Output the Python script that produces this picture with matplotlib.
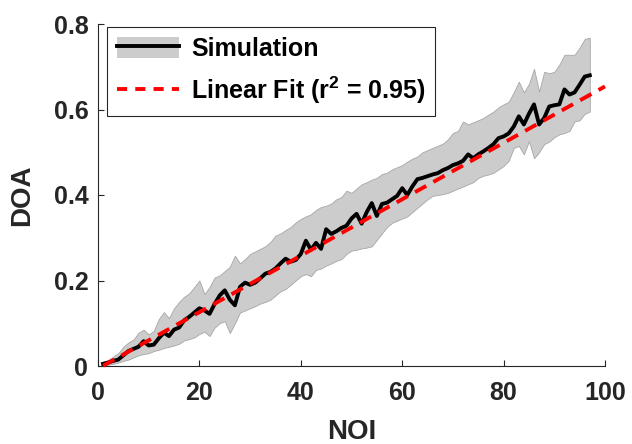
import numpy as np
import matplotlib
matplotlib.use("Agg")
import matplotlib.pyplot as plt
from matplotlib.patches import Patch
from matplotlib.lines import Line2D

# ---------------- data ----------------
noi = list(range(1, 98))
doa_mean = [0.005, 0.008, 0.012, 0.015, 0.025, 0.035, 0.040, 0.045, 0.058, 0.048,
            0.050, 0.065, 0.078, 0.070, 0.085, 0.090, 0.107, 0.115, 0.125,
            0.135, 0.130, 0.122, 0.145, 0.165, 0.177, 0.155, 0.142, 0.185, 0.195,
            0.190, 0.195, 0.205, 0.216, 0.220, 0.228, 0.240, 0.251, 0.244, 0.248,
            0.262, 0.293, 0.272, 0.288, 0.274, 0.320, 0.309, 0.315, 0.323,
            0.328, 0.345, 0.356, 0.333, 0.360, 0.381, 0.351, 0.379, 0.382, 0.390,
            0.398, 0.416, 0.400, 0.420, 0.437, 0.440, 0.444, 0.448, 0.451, 0.458,
            0.463, 0.470, 0.474, 0.480, 0.495, 0.486, 0.495, 0.502, 0.510, 0.519,
            0.533, 0.537, 0.544, 0.560, 0.584, 0.565, 0.590, 0.612, 0.565,
            0.580, 0.607, 0.610, 0.612, 0.647, 0.635, 0.640, 0.658, 0.677, 0.680]
doa_upper = [0.010, 0.014, 0.022, 0.030, 0.045, 0.055, 0.062, 0.078, 0.085, 0.074,
             0.082, 0.110, 0.126, 0.112, 0.135, 0.150, 0.162, 0.170, 0.185,
             0.200, 0.168, 0.185, 0.207, 0.212, 0.222, 0.232, 0.258, 0.240, 0.250,
             0.262, 0.268, 0.274, 0.280, 0.290, 0.305, 0.310, 0.318, 0.325, 0.336,
             0.344, 0.350, 0.355, 0.365, 0.372, 0.375, 0.380, 0.390, 0.395,
             0.410, 0.405, 0.415, 0.425, 0.430, 0.436, 0.440, 0.449, 0.452, 0.460,
             0.465, 0.470, 0.478, 0.485, 0.490, 0.500, 0.505, 0.510, 0.515, 0.520,
             0.530, 0.545, 0.550, 0.572, 0.565, 0.570, 0.575, 0.580, 0.588, 0.595,
             0.605, 0.612, 0.618, 0.640, 0.665, 0.640, 0.660, 0.695, 0.642,
             0.688, 0.685, 0.688, 0.705, 0.728, 0.728, 0.728, 0.745, 0.765, 0.768]
doa_lower = [0.001, 0.003, 0.005, 0.008, 0.012, 0.015, 0.020, 0.025, 0.028, 0.030,
             0.035, 0.038, 0.042, 0.045, 0.048, 0.052, 0.060, 0.063, 0.067,
             0.075, 0.080, 0.070, 0.090, 0.100, 0.105, 0.077, 0.100, 0.125, 0.130,
             0.135, 0.140, 0.146, 0.150, 0.155, 0.165, 0.175, 0.180, 0.190, 0.200,
             0.210, 0.215, 0.210, 0.225, 0.228, 0.235, 0.240, 0.246, 0.250,
             0.262, 0.270, 0.272, 0.275, 0.277, 0.280, 0.295, 0.310, 0.325, 0.335,
             0.340, 0.345, 0.350, 0.360, 0.370, 0.380, 0.390, 0.398, 0.400, 0.402,
             0.405, 0.410, 0.415, 0.420, 0.425, 0.430, 0.440, 0.445, 0.448, 0.452,
             0.460, 0.468, 0.480, 0.510, 0.515, 0.495, 0.526, 0.486, 0.500,
             0.519, 0.525, 0.535, 0.542, 0.545, 0.550, 0.572, 0.575, 0.590, 0.595]
fit_slope = 0.0066
fit_intercept = -0.006
fit_x_range = [1, 100]
r_squared = 0.95

x_ticks = [0, 20, 40, 60, 80, 100]
y_ticks = [0, 0.2, 0.4, 0.6, 0.8]
y_ticklabels = ["0", "0.2", "0.4", "0.6", "0.8"]

# ---------------- style ----------------
plt.rcParams["font.family"] = ["Liberation Sans", "DejaVu Sans"]
plt.rcParams["font.weight"] = "bold"
plt.rcParams["mathtext.fontset"] = "custom"
plt.rcParams["mathtext.rm"] = "Liberation Sans:bold"
plt.rcParams["mathtext.default"] = "rm"

dark = "#262626"
fig = plt.figure(figsize=(6.32, 4.44), dpi=100)
ax = fig.add_axes([98 / 632, 78 / 444, 507 / 632, 342 / 444])

x = np.array(noi)
ax.fill_between(x, doa_lower, doa_upper, facecolor="#cccccc",
                edgecolor="#a6a6a6", linewidth=0.6, zorder=1)
fx = np.array(fit_x_range, dtype=float)
ax.plot(x, doa_mean, color="black", lw=2.8, zorder=2)
ax.plot(fx, fit_slope * fx + fit_intercept, color="red", lw=2.8,
        dashes=(3.3, 2.1), zorder=3, clip_on=False)

ax.set_xlim(0, 100)
ax.set_ylim(0, 0.8)
ax.set_xticks(x_ticks)
ax.set_yticks(y_ticks)
ax.set_yticklabels(y_ticklabels)
for s in ["top", "right"]:
    ax.spines[s].set_visible(False)
for s in ["left", "bottom"]:
    ax.spines[s].set_color(dark)
    ax.spines[s].set_linewidth(0.8)
ax.tick_params(direction="in", length=4, width=0.8, color=dark,
               labelsize=18, labelcolor=dark, pad=7)
ax.tick_params(axis="x", pad=11)
for lab in ax.get_xticklabels() + ax.get_yticklabels():
    lab.set_fontweight("bold")

ax.set_xlabel("NOI", fontsize=20, fontweight="bold", color=dark, labelpad=10)
ax.set_ylabel("DOA", fontsize=20, fontweight="bold", color=dark, labelpad=13)

h_sim = (Patch(facecolor="#cccccc", edgecolor="none"),
         Line2D([], [], color="black", lw=2.8))
h_fit = Line2D([], [], color="red", lw=2.8, dashes=(2.6, 2.1))
leg = ax.legend([h_sim, h_fit],
                ["Simulation", r"Linear Fit (r$^2$ = %.2f)" % r_squared],
                loc="upper left", bbox_to_anchor=(0.018, 0.991),
                prop={"size": 18, "weight": "bold"},
                handlelength=2.5, handleheight=0.95, handletextpad=0.48,
                labelspacing=0.55, borderpad=0.38, borderaxespad=0.0,
                fancybox=False, framealpha=1, edgecolor=dark)
leg.get_frame().set_linewidth(0.8)

fig.savefig("out.png", dpi=100)
